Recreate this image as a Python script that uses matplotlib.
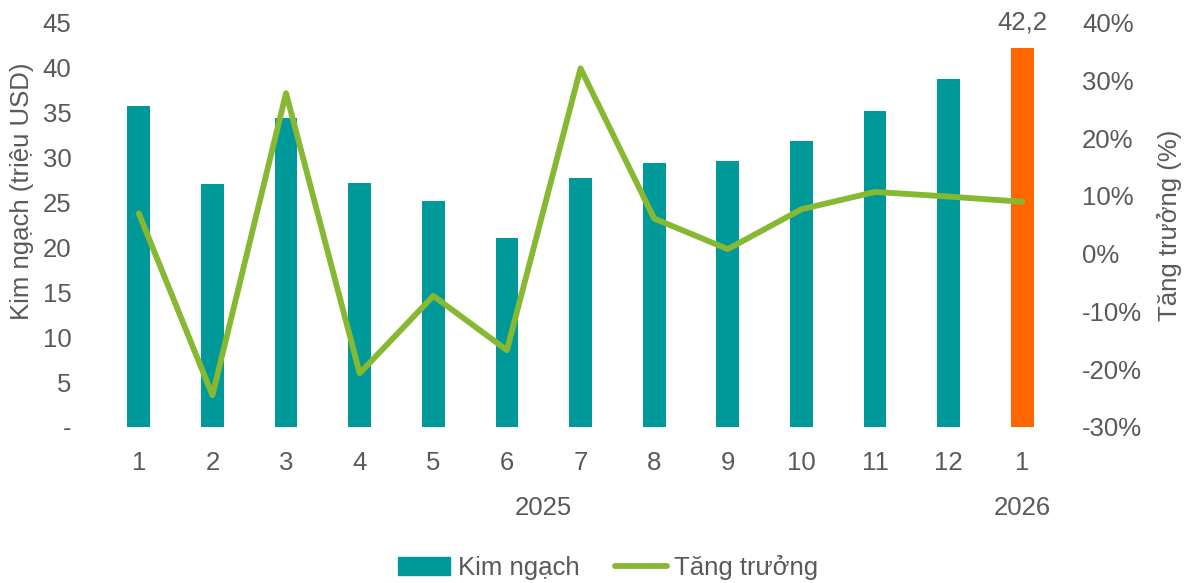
import numpy as np
import matplotlib.pyplot as plt
from matplotlib.ticker import FuncFormatter
from matplotlib.patches import Patch
from matplotlib.lines import Line2D

months = ["1", "2", "3", "4", "5", "6", "7", "8", "9", "10", "11", "12", "1"]
years = ["2025", "2026"]
kim_ngach = [35.7, 27.0, 34.4, 27.2, 25.2, 21.0, 27.7, 29.4, 29.6, 31.8, 35.2, 38.7, 42.2]
tang_truong = [7.0, -24.5, 27.8, -20.7, -7.3, -16.7, 32.1, 6.1, 0.8, 7.7, 10.7, 9.9, 9.0]

teal = "#009999"
orange = "#FF6600"
green = "#86B832"
text_col = "#595959"
fs = 18.5

plt.rcParams['font.family'] = ['Liberation Sans', 'DejaVu Sans']

fig = plt.figure(figsize=(11.86, 5.83), dpi=100)
ax = fig.add_axes([0.086, 0.2676, 0.807, 0.6934])
ax2 = ax.twinx()

x = np.arange(len(months))
colors = [teal] * (len(months) - 1) + [orange]
ax.bar(x, kim_ngach, width=0.31, color=colors, zorder=2)
ax.text(x[-1], kim_ngach[-1] + 2.8, f"{kim_ngach[-1]:.1f}".replace(".", ","),
        ha="center", va="center", fontsize=fs, color=text_col, clip_on=False)

ax2.plot(x, tang_truong, color=green, linewidth=4.2, solid_capstyle="round",
         solid_joinstyle="round", zorder=3)

ax.set_xlim(-0.5, len(months) - 0.5)
ax.set_ylim(0, 45)
ax.set_yticks(np.arange(0, 46, 5))
ax.yaxis.set_major_formatter(FuncFormatter(lambda v, p: "-" if v == 0 else f"{v:.0f}"))
ax2.set_ylim(-30, 40)
ax2.set_yticks(np.arange(-30, 41, 10))
ax2.yaxis.set_major_formatter(FuncFormatter(lambda v, p: f"{v:.0f}%"))

ax.set_xticks(x)
ax.set_xticklabels(months)

for a in (ax, ax2):
    for s in a.spines.values():
        s.set_visible(False)
    a.tick_params(length=0, labelsize=fs, colors=text_col)
ax.tick_params(axis="y", pad=22)
ax.tick_params(axis="x", pad=17)
ax2.tick_params(axis="y", pad=16.5)

ax.set_zorder(ax2.get_zorder() - 1)
ax.patch.set_visible(False)

# year labels under month groups
ax.text(5.5, -0.2, years[0], transform=ax.get_xaxis_transform(), ha="center", va="center",
        fontsize=fs, color=text_col)
ax.text(12, -0.2, years[1], transform=ax.get_xaxis_transform(), ha="center", va="center",
        fontsize=fs, color=text_col)

fig.text(0.0185, 0.6715, "Kim ngạch (triệu USD)", rotation=90, ha="center", va="center",
         fontsize=fs, color=text_col)
fig.text(0.9865, 0.614, "Tăng trưởng (%)", rotation=90, ha="center", va="center",
         fontsize=fs, color=text_col)

handles = [Patch(color=teal), Line2D([0], [0], color=green, linewidth=4.2, solid_capstyle="round")]
fig.legend(handles, ["Kim ngạch", "Tăng trưởng"], loc="center", bbox_to_anchor=(0.513, 0.026),
           ncol=2, frameon=False, fontsize=fs, labelcolor=text_col, handlelength=2.0,
           handletextpad=0.3, columnspacing=1.4)

fig.savefig("out.png", dpi=100)
